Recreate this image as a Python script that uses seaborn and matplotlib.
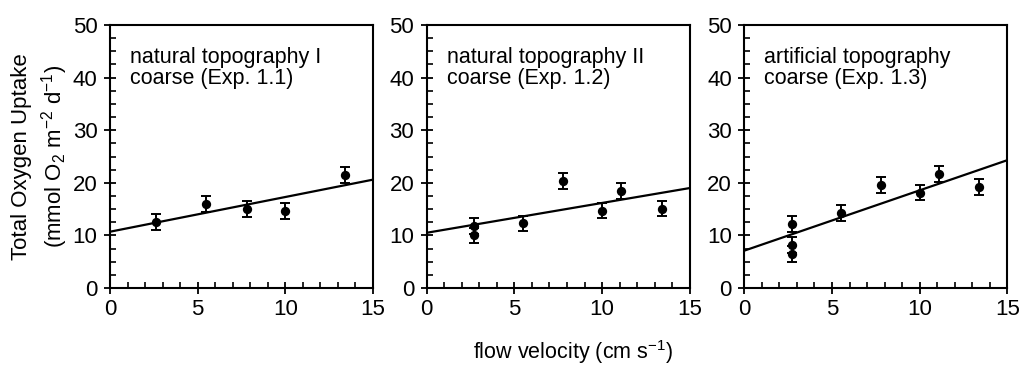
import numpy as np
import pandas as pd
import matplotlib
matplotlib.use("Agg")
import matplotlib.pyplot as plt
from matplotlib.ticker import MultipleLocator
import seaborn as sns

sns.set_theme(style="ticks")
plt.rcParams['font.family'] = ['Liberation Sans', 'DejaVu Sans']
plt.rcParams['mathtext.fontset'] = 'custom'
plt.rcParams['mathtext.rm'] = 'Liberation Sans'
plt.rcParams['mathtext.it'] = 'Liberation Sans'

# ---- data ----
titles = ["natural topography I\ncoarse (Exp. 1.1)",
          "natural topography II\ncoarse (Exp. 1.2)",
          "artificial topography\ncoarse (Exp. 1.3)"]

x1 = [2.6, 5.5, 7.8, 10.0, 13.4]
y1 = [12.5, 16.0, 15.0, 14.7, 21.5]
e1 = [1.5, 1.5, 1.5, 1.5, 1.5]

x2 = [2.7, 2.7, 5.5, 7.8, 10.0, 11.1, 13.4]
y2 = [11.8, 10.0, 12.3, 20.3, 14.7, 18.5, 15.1]
e2 = [1.5, 1.4, 1.4, 1.5, 1.4, 1.5, 1.5]

x3 = [2.7, 2.7, 2.7, 5.5, 7.8, 10.0, 11.1, 13.4]
y3 = [12.2, 8.2, 6.4, 14.2, 19.6, 18.1, 21.6, 19.2]
e3 = [1.5, 1.5, 1.5, 1.5, 1.5, 1.4, 1.5, 1.5]

fit_x = [0, 15]
fit_y1 = [10.7, 20.6]
fit_y2 = [10.5, 19.0]
fit_y3 = [7.1, 24.3]

xticks = [0, 5, 10, 15]
yticks = [0, 10, 20, 30, 40, 50]

panels = [(x1, y1, e1, fit_y1), (x2, y2, e2, fit_y2), (x3, y3, e3, fit_y3)]

fig = plt.figure(figsize=(10.24, 3.67), dpi=100)
lefts = [110 / 1024, 426.7 / 1024, 744.3 / 1024]
W = 263 / 1024
B = (367 - 288) / 367
H = 263 / 367

for i, (xs, ys, es, fy) in enumerate(panels):
    ax = fig.add_axes([lefts[i], B, W, H])
    df = pd.DataFrame({"x": xs, "y": ys, "e": es})
    ax.errorbar(df["x"], df["y"], yerr=df["e"], fmt="none", ecolor="black",
                elinewidth=1.4, capsize=3.5, capthick=1.4, zorder=2)
    sns.scatterplot(data=df, x="x", y="y", ax=ax, color="black", s=45,
                    edgecolor="black", linewidth=0, zorder=3)
    fdf = pd.DataFrame({"x": fit_x, "y": fy})
    sns.lineplot(data=fdf, x="x", y="y", ax=ax, color="black", linewidth=1.6, zorder=1)
    ax.set_xlim(0, 15)
    ax.set_ylim(0, 50)
    ax.set_xticks(xticks)
    ax.set_yticks(yticks)
    ax.xaxis.set_minor_locator(MultipleLocator(1))
    ax.yaxis.set_minor_locator(MultipleLocator(2.5))
    ax.tick_params(which="major", direction="inout", length=8, width=1.3,
                   labelsize=16, color="black", labelcolor="black")
    ax.tick_params(axis="x", which="major", pad=4)
    ax.tick_params(axis="y", which="major", pad=5)
    ax.tick_params(which="minor", direction="in", length=4, width=1.2, color="black")
    for s in ax.spines.values():
        s.set_linewidth(1.5)
        s.set_color("black")
    ax.set_xlabel("")
    ax.set_ylabel("")
    ax.text(0.076, 0.915, titles[i], transform=ax.transAxes, ha="left", va="top",
            fontsize=15.5, color="black", linespacing=0.98)
    if i == 0:
        ax.set_ylabel("Total Oxygen Uptake\n(mmol O$_2$ m$^{-2}$ d$^{-1}$)",
                      fontsize=16, color="black", labelpad=2, linespacing=1.3)

fig.text(573 / 1024, 1 - 352 / 367, "flow velocity (cm s$^{-1}$)", ha="center",
         va="center", fontsize=15.5, color="black")

fig.savefig("out.png", dpi=100)
